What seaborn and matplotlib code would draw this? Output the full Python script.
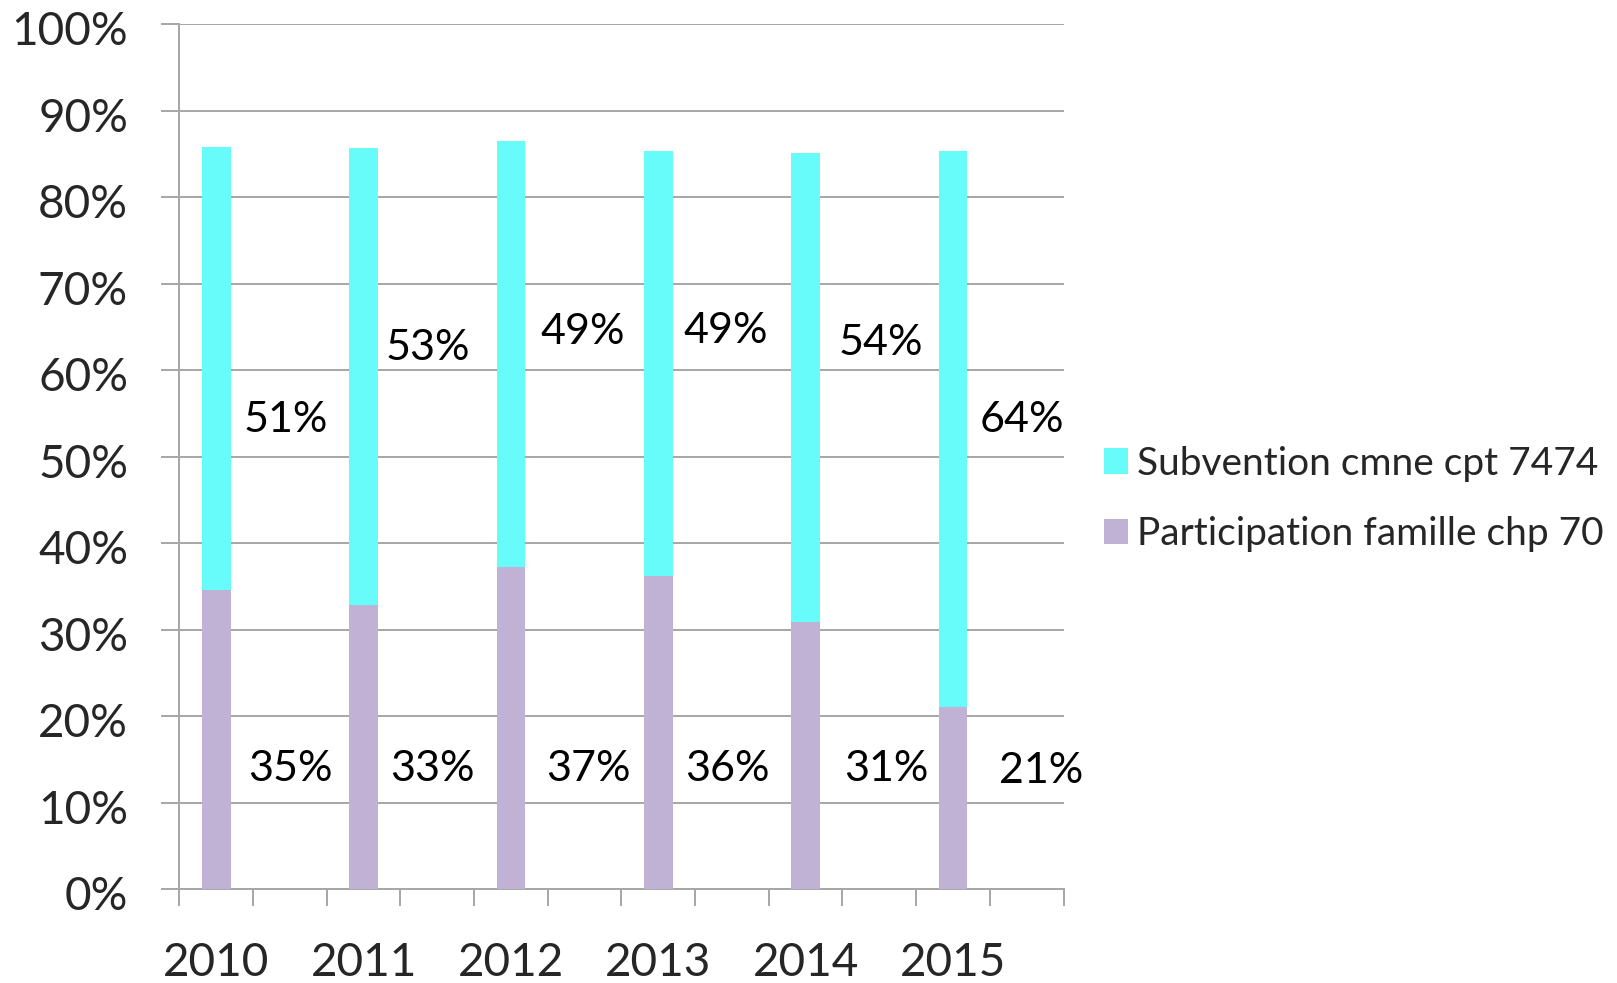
import matplotlib
matplotlib.use("Agg")
import matplotlib.pyplot as plt
from matplotlib.patches import Patch
from matplotlib.transforms import ScaledTranslation
import seaborn as sns
import pandas as pd

# ---- data ----
YEARS = ["2010", "2011", "2012", "2013", "2014", "2015"]
PARTICIPATION = [34.6, 32.8, 37.2, 36.2, 30.9, 21.0]   # Participation famille chp 70 (%)
SUBVENTION = [51.2, 52.9, 49.3, 49.2, 54.2, 64.4]       # Subvention cmne cpt 7474 (%)
Y_TICKS = [0, 10, 20, 30, 40, 50, 60, 70, 80, 90, 100]
SERIES_NAMES = ["Subvention cmne cpt 7474", "Participation famille chp 70"]

# ---- layout (label placement, not data) ----
LBL_TOP_Y = [54.2, 62.6, 64.4, 64.5, 63.1, 54.2]
LBL_TOP_DX = [-0.06, -0.13, -0.02, -0.09, 0.02, -0.06]
LBL_BOT_Y = [13.9, 13.9, 13.9, 13.9, 13.9, 13.7]
LBL_BOT_DX = [0.0, -0.06, 0.05, -0.06, 0.09, 0.2]

CYAN = "#67FCF9"
PURPLE = "#C0B2D4"
GRID = "#A6A6A6"

sns.set_theme(style="white")
plt.rcParams["font.family"] = ["Lato", "DejaVu Sans"]

# 12 category slots: each year followed by an empty slot
order = []
for i, y in enumerate(YEARS):
    order.append(y)
    order.append(" " * (i + 1))

df = pd.DataFrame({
    "year": YEARS,
    "part": PARTICIPATION,
    "total": [p + s for p, s in zip(PARTICIPATION, SUBVENTION)],
})

fig = plt.figure(figsize=(16.17, 9.83), dpi=100)
ax = fig.add_axes([0.1110, 0.0956, 0.6577 - 0.1110, 0.9753 - 0.0956])

sns.barplot(data=df, x="year", y="total", order=order, color=CYAN,
            width=0.39, saturation=1, linewidth=0, ax=ax, zorder=3)
sns.barplot(data=df, x="year", y="part", order=order, color=PURPLE,
            width=0.39, saturation=1, linewidth=0, ax=ax, zorder=3)

ax.set_xlim(-0.5, len(order) - 0.5)
ax.set_ylim(0, 100)
ax.set_xlabel("")
ax.set_ylabel("")

# y axis
ax.set_yticks(Y_TICKS)
ax.set_yticklabels([f"{v}%" for v in Y_TICKS])
ax.tick_params(axis="y", length=13, width=1.4, color=GRID, pad=24,
               labelsize=33, direction="out", left=True)
ax.yaxis.grid(True, color=GRID, linewidth=1.4, zorder=0)
ax.set_axisbelow(True)

# x axis: tick marks at slot boundaries, year labels at slot centres
bounds = [i - 0.5 for i in range(len(order) + 1)]
ax.set_xticks(bounds)
ax.set_xticklabels([""] * len(bounds))
ax.tick_params(axis="x", which="major", length=12, width=1.4, color=GRID,
               direction="out", bottom=True)
ax.set_xticks([2 * i for i in range(len(YEARS))], minor=True)
ax.set_xticklabels(YEARS, minor=True)
ax.tick_params(axis="x", which="minor", length=0, pad=38, labelsize=33)

for side in ["top", "right"]:
    ax.spines[side].set_visible(False)
for side in ["left", "bottom"]:
    ax.spines[side].set_color(GRID)
    ax.spines[side].set_linewidth(1.4)

# nudge y tick labels slightly down
shift = ScaledTranslation(0, -4 / 100, fig.dpi_scale_trans)
for lab in ax.get_yticklabels():
    lab.set_transform(lab.get_transform() + shift)

# data labels
for i in range(len(YEARS)):
    ax.text(2 * i + 1 + LBL_TOP_DX[i], LBL_TOP_Y[i], f"{round(SUBVENTION[i])}%",
            ha="center", va="center", fontsize=31, color="black", zorder=5)
    ax.text(2 * i + 1 + LBL_BOT_DX[i], LBL_BOT_Y[i], f"{round(PARTICIPATION[i])}%",
            ha="center", va="center", fontsize=31, color="black", zorder=5)

handles = [Patch(facecolor=CYAN, edgecolor="none"),
           Patch(facecolor=PURPLE, edgecolor="none")]
fig.legend(handles, SERIES_NAMES, loc="center left",
           bbox_to_anchor=(0.6827, 0.4925), frameon=False, fontsize=28,
           handlelength=0.62, handleheight=0.62, handletextpad=0.24,
           labelspacing=0.88, borderpad=0, borderaxespad=0)

fig.savefig("out.png", dpi=100)
